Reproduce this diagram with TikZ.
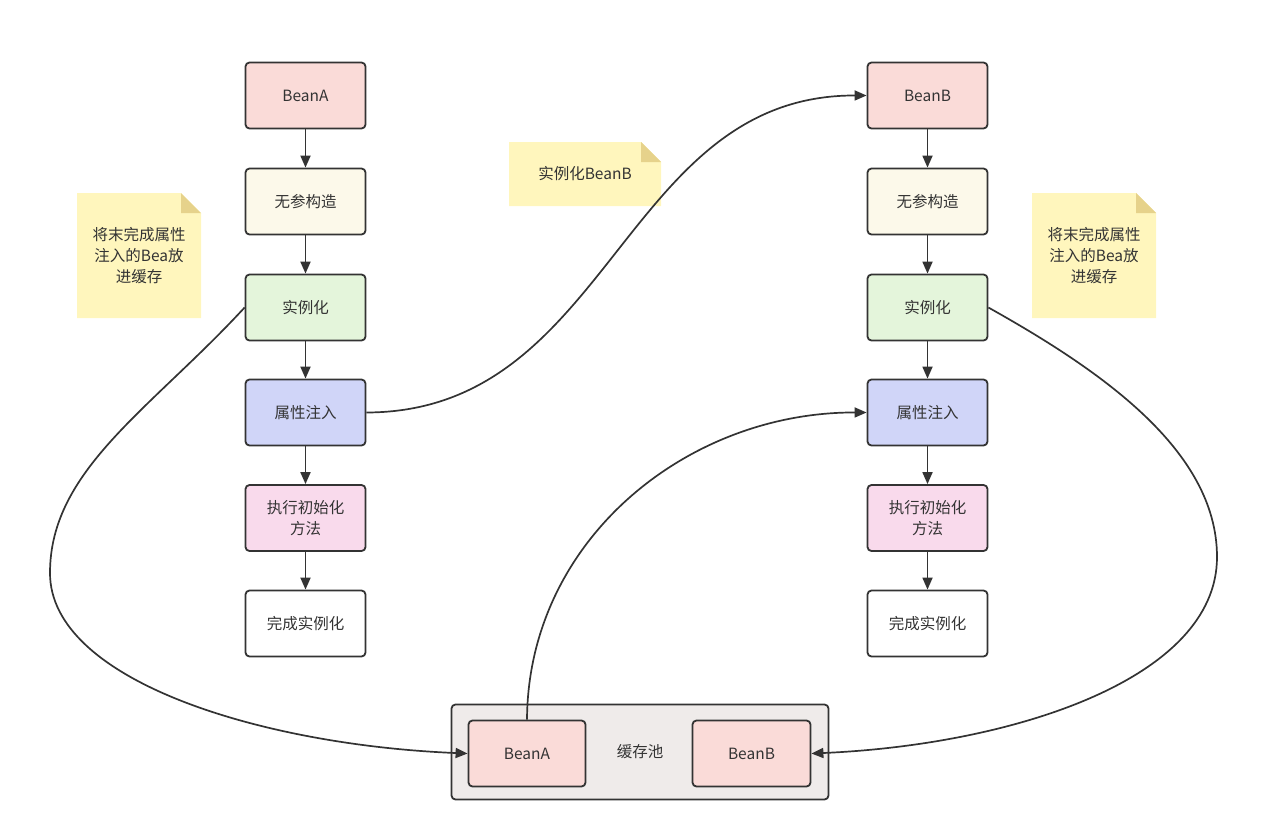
\documentclass[tikz,border=0pt]{standalone}
\usepackage{fontspec}
\setmainfont{Noto Sans CJK SC}
\usetikzlibrary{arrows.meta,backgrounds}
\definecolor{txt}{HTML}{333333}
\definecolor{edge}{HTML}{333333}
\definecolor{cbean}{HTML}{FADBD8}
\definecolor{cnoarg}{HTML}{FCF9EA}
\definecolor{cinst}{HTML}{E4F5DB}
\definecolor{cprop}{HTML}{D0D5F8}
\definecolor{cinit}{HTML}{F9DAEC}
\definecolor{cnote}{HTML}{FFF6BD}
\definecolor{cfold}{HTML}{E6D28B}
\definecolor{ccache}{HTML}{EFEBEA}
\tikzset{
  box/.style={draw=edge, line width=1.8pt, rounded corners=4pt, minimum width=120pt, minimum height=66pt, text=txt, font=\fontsize{15.5}{21}\selectfont, align=center, inner sep=2pt},
  notetext/.style={text=txt, font=\fontsize{15.5}{21}\selectfont, align=center, inner sep=0pt},
  arr/.style={draw=edge, line width=1.8pt, -{Triangle[length=12pt,width=10pt]}},
  curve/.style={draw=edge, line width=1.7pt, -{Triangle[length=12pt,width=10pt]}},
  plain/.style={draw=edge, line width=1.7pt},
}
\begin{document}
\begin{tikzpicture}[x=1pt,y=-1pt]
\useasboundingbox (0,0) rectangle (1275,820);
% cache pool
\node[box, fill=ccache, minimum width=377pt, minimum height=95pt] (cache) at (640,752) {};
\node[notetext] (cachelbl) at (640,752) {缓存池};
\node[box, fill=cbean, minimum width=117pt] (ca) at (527,753.5) {BeanA};
\node[box, fill=cbean, minimum width=118pt] (cb) at (751.5,753.5) {BeanB};
% left column
\node[box, fill=cbean]  (a1) at (305.5,95.5) {BeanA};
\node[box, fill=cnoarg] (a2) at (305.5,201.5) {无参构造};
\node[box, fill=cinst]  (a3) at (305.5,307.5) {实例化};
\node[box, fill=cprop]  (a4) at (305.5,412.5) {属性注入};
\node[box, fill=cinit]  (a5) at (305.5,518) {执行初始化\\方法};
\node[box, fill=white]  (a6) at (305.5,623.5) {完成实例化};
% right column
\node[box, fill=cbean]  (b1) at (927.5,95.5) {BeanB};
\node[box, fill=cnoarg] (b2) at (927.5,201.5) {无参构造};
\node[box, fill=cinst]  (b3) at (927.5,307.5) {实例化};
\node[box, fill=cprop]  (b4) at (927.5,412.5) {属性注入};
\node[box, fill=cinit]  (b5) at (927.5,518) {执行初始化\\方法};
\node[box, fill=white]  (b6) at (927.5,623.5) {完成实例化};
% notes
\fill[cnote] (77,193) -- (181,193) -- (201,213) -- (201,318) -- (77,318) -- cycle;
\fill[cfold] (181,193) -- (201,213) -- (181,213) -- cycle;
\node[notetext] (n1) at (139,256) {将末完成属性\\注入的Bea放\\进缓存};
\fill[cnote] (509,142) -- (641,142) -- (661,162) -- (661,206) -- (509,206) -- cycle;
\fill[cfold] (641,142) -- (661,162) -- (641,162) -- cycle;
\node[notetext] (n2) at (585,174) {实例化BeanB};
\fill[cnote] (1032,193) -- (1136,193) -- (1156,213) -- (1156,318) -- (1032,318) -- cycle;
\fill[cfold] (1136,193) -- (1156,213) -- (1136,213) -- cycle;
\node[notetext] (n3) at (1094,256) {将末完成属性\\注入的Bea放\\进缓存};
% vertical arrows
\foreach \i/\j in {1/2,2/3,3/4,4/5,5/6}{
  \draw[arr] (a\i.south) -- (a\j.north);
  \draw[arr] (b\i.south) -- (b\j.north);
}
% curves
\coordinate (lm) at (50,573);
\coordinate (rm) at (1217,557);
\draw[plain] (a3.west) .. controls (150,410) and (50,470) .. (lm);
\draw[curve] (lm) .. controls (50,680) and (260,745) .. (ca.west);
\draw[curve] (a4.east) .. controls (611,412) and (622,95) .. (b1.west);
\draw[curve] (ca.north) .. controls (528,540) and (687,412) .. (b4.west);
\draw[plain] (b3.east) .. controls (1100,370) and (1217,450) .. (rm);
\draw[curve] (rm) .. controls (1217,680) and (1010,745) .. (cb.east);
\end{tikzpicture}
\end{document}
